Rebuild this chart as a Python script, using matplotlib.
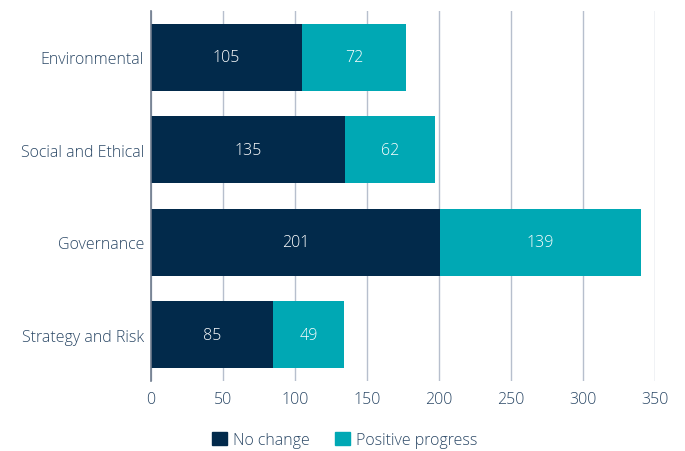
import matplotlib
matplotlib.use("Agg")
import matplotlib.pyplot as plt
from matplotlib.patches import Patch

categories = ["Environmental", "Social and Ethical", "Governance", "Strategy and Risk"]
no_change = [105, 135, 201, 85]
positive = [72, 62, 139, 49]
series_names = ["No change", "Positive progress"]
xticks = [0, 50, 100, 150, 200, 250, 300, 350]

navy = "#022a4b"
teal = "#00a8b4"
text_c = "#2b4866"
grid_c = "#b7bfcd"

plt.rcParams['font.family'] = ['Open Sans', 'DejaVu Sans']
plt.rcParams['font.weight'] = 'light'

fig = plt.figure(figsize=(6.85, 4.52), dpi=100)
ax = fig.add_axes([151/685, 1-382/452, (655-151)/685, 370/452])

y = list(range(len(categories)))
b1 = ax.barh(y, no_change, height=0.72, color=navy, zorder=3)
b2 = ax.barh(y, positive, left=no_change, height=0.72, color=teal, zorder=3)
for rect, v in zip(b1, no_change):
    ax.text(rect.get_x() + rect.get_width()/2, rect.get_y() + rect.get_height()/2, str(v),
            ha='center', va='center', color='white', fontsize=11.5, fontweight='light', zorder=4)
for rect, v in zip(b2, positive):
    ax.text(rect.get_x() + rect.get_width()/2, rect.get_y() + rect.get_height()/2, str(v),
            ha='center', va='center', color='white', fontsize=11.5, fontweight='light', zorder=4)

ax.set_ylim(3.5, -0.5)
ax.set_xlim(0, 350)
ax.set_yticks(y)
ax.set_yticklabels(categories)
ax.set_xticks(xticks)
ax.set_xticklabels([str(t) for t in xticks])
ax.xaxis.grid(True, color=grid_c, linewidth=1, zorder=0)
for s in ['top', 'right', 'bottom']:
    ax.spines[s].set_visible(False)
ax.spines['left'].set_color('#6d7a8c')
ax.spines['left'].set_linewidth(1.2)
ax.spines['left'].set_zorder(5)
ax.tick_params(axis='both', length=0, colors=text_c, labelsize=11.5)
ax.tick_params(axis='y', pad=5)
ax.tick_params(axis='x', pad=7)

handles = [Patch(color=navy), Patch(color=teal)]
fig.legend(handles, series_names, loc='center', bbox_to_anchor=(345/685, 1-441/452), ncol=2,
           frameon=False, handlelength=0.9, handleheight=0.9, handletextpad=0.4, columnspacing=1.6,
           labelcolor=text_c, prop={'size': 11.5, 'weight': 'light'})

fig.savefig("out.png", dpi=100)
